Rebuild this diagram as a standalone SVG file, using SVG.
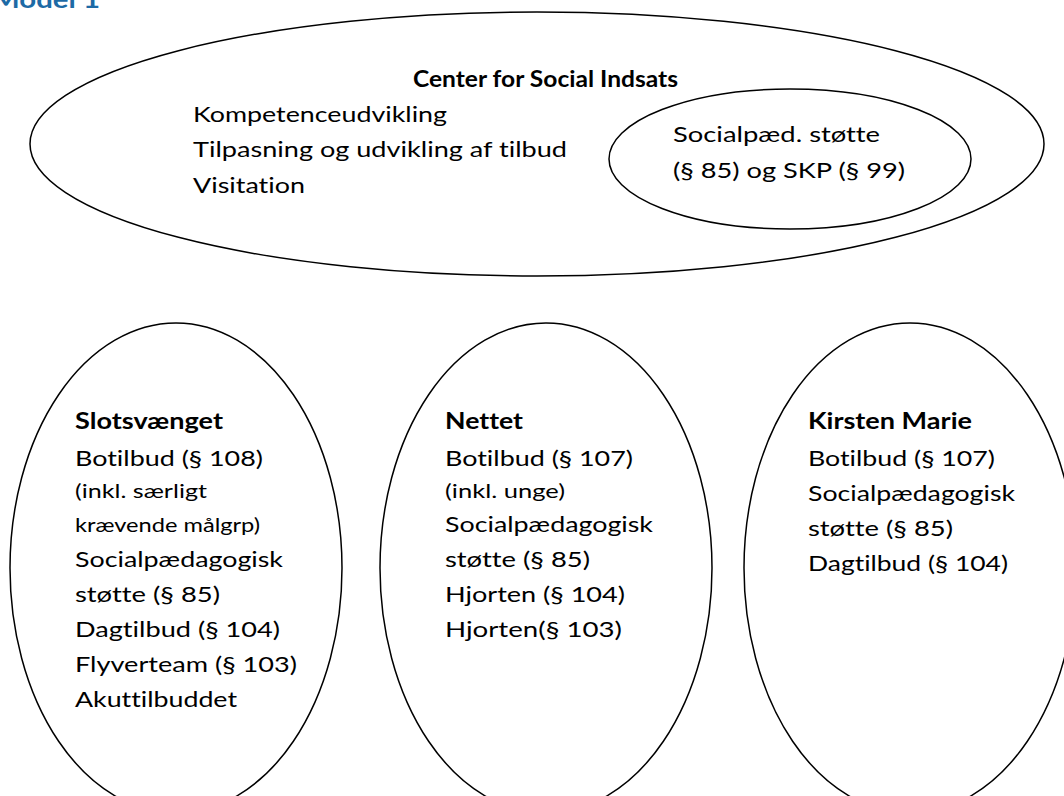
<svg xmlns="http://www.w3.org/2000/svg" width="1064" height="796" viewBox="0 0 1064 796">
<style>
.sh{fill:#fff;stroke:#000;stroke-width:1.5}
text{font-family:Lato,"Liberation Sans",sans-serif;fill:#000;font-size:22px;font-variant-ligatures:none}
.b{font-weight:bold}
.s{font-size:19.5px}
.t{fill:#1D6AA5;font-weight:bold;font-size:25px}
</style>
<rect width="1064" height="796" fill="#fff"/>
<text class="t" x="-8" y="8" textLength="108" lengthAdjust="spacingAndGlyphs">Model 1</text>
<g id="center">
<ellipse class="sh" cx="537" cy="144" rx="507" ry="132"/>
<text class="b" x="413" y="87" textLength="265" lengthAdjust="spacingAndGlyphs">Center for Social Indsats</text>
<text x="193" y="122" textLength="254" lengthAdjust="spacingAndGlyphs">Kompetenceudvikling</text>
<text x="193" y="157" textLength="374" lengthAdjust="spacingAndGlyphs">Tilpasning og udvikling af tilbud</text>
<text x="193" y="193" textLength="112" lengthAdjust="spacingAndGlyphs">Visitation</text>
</g>
<g id="socialpaed">
<ellipse class="sh" cx="790" cy="159" rx="181" ry="70"/>
<text x="673" y="142" textLength="207" lengthAdjust="spacingAndGlyphs">Socialpæd. støtte</text>
<text x="673" y="178" textLength="232" lengthAdjust="spacingAndGlyphs">(§ 85) og SKP (§ 99)</text>
</g>
<g id="slotsvaenget">
<ellipse class="sh" cx="176" cy="568" rx="166" ry="245"/>
<text class="b" x="75" y="429" textLength="148" lengthAdjust="spacingAndGlyphs">Slotsvænget</text>
<text x="75" y="466" textLength="188" lengthAdjust="spacingAndGlyphs">Botilbud (§ 108)</text>
<text class="s" x="75" y="498" textLength="132" lengthAdjust="spacingAndGlyphs">(inkl. særligt</text>
<text class="s" x="75" y="532" textLength="185" lengthAdjust="spacingAndGlyphs">krævende målgrp)</text>
<text x="75" y="567" textLength="208" lengthAdjust="spacingAndGlyphs">Socialpædagogisk</text>
<text x="75" y="602" textLength="145" lengthAdjust="spacingAndGlyphs">støtte (§ 85)</text>
<text x="75" y="637" textLength="205" lengthAdjust="spacingAndGlyphs">Dagtilbud (§ 104)</text>
<text x="75" y="672" textLength="222" lengthAdjust="spacingAndGlyphs">Flyverteam (§ 103)</text>
<text x="75" y="707" textLength="162" lengthAdjust="spacingAndGlyphs">Akuttilbuddet</text>
</g>
<g id="nettet">
<ellipse class="sh" cx="546" cy="568" rx="166" ry="245"/>
<text class="b" x="445" y="429" textLength="78" lengthAdjust="spacingAndGlyphs">Nettet</text>
<text x="445" y="466" textLength="188" lengthAdjust="spacingAndGlyphs">Botilbud (§ 107)</text>
<text class="s" x="445" y="498" textLength="120" lengthAdjust="spacingAndGlyphs">(inkl. unge)</text>
<text x="445" y="532" textLength="208" lengthAdjust="spacingAndGlyphs">Socialpædagogisk</text>
<text x="445" y="567" textLength="145" lengthAdjust="spacingAndGlyphs">støtte (§ 85)</text>
<text x="445" y="602" textLength="180" lengthAdjust="spacingAndGlyphs">Hjorten (§ 104)</text>
<text x="445" y="637" textLength="177" lengthAdjust="spacingAndGlyphs">Hjorten(§ 103)</text>
</g>
<g id="kirstenmarie">
<ellipse class="sh" cx="910" cy="568" rx="166" ry="245"/>
<text class="b" x="808" y="429" textLength="164" lengthAdjust="spacingAndGlyphs">Kirsten Marie</text>
<text x="808" y="466" textLength="187" lengthAdjust="spacingAndGlyphs">Botilbud (§ 107)</text>
<text x="808" y="501" textLength="207" lengthAdjust="spacingAndGlyphs">Socialpædagogisk</text>
<text x="808" y="536" textLength="145" lengthAdjust="spacingAndGlyphs">støtte (§ 85)</text>
<text x="808" y="571" textLength="200" lengthAdjust="spacingAndGlyphs">Dagtilbud (§ 104)</text>
</g>
<g id="connectors"/>
</svg>
